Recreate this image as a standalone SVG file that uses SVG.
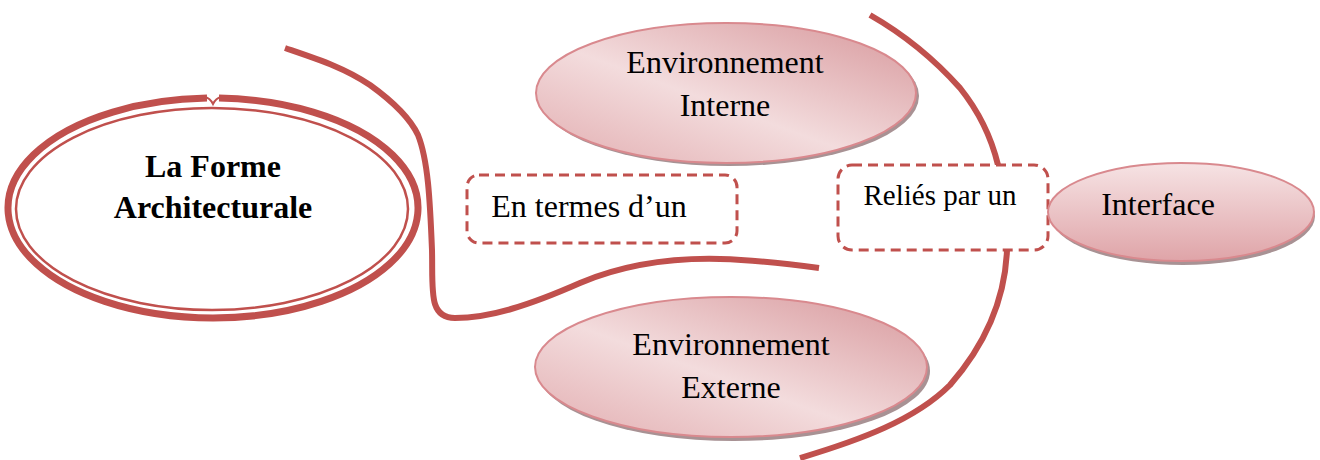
<svg xmlns="http://www.w3.org/2000/svg" width="1320" height="460" viewBox="0 0 1320 460">
<style>
  .line{fill:none;stroke:#c0504d;stroke-width:6;stroke-linecap:butt}
  .t{font-family:"Liberation Serif","Times New Roman",serif;font-size:32px;fill:#000;text-anchor:middle}
  .b{font-weight:bold}
  .dash{fill:#fff;stroke:#c0504d;stroke-width:3;stroke-dasharray:10 6}
  .env{fill:url(#gEnv);stroke:#d9898e;stroke-width:2}
  .shadow{fill:#a89294}
</style>
<defs>
  <linearGradient id="gEnv" x1="0" y1="1" x2="1" y2="0">
    <stop offset="0" stop-color="#e2adb0"/>
    <stop offset="0.45" stop-color="#f3dcdd"/>
    <stop offset="1" stop-color="#d7979b"/>
  </linearGradient>
  <linearGradient id="gInt" x1="0" y1="0" x2="0" y2="1">
    <stop offset="0" stop-color="#f6e3e4"/>
    <stop offset="1" stop-color="#dfa4a8"/>
  </linearGradient>
</defs>
<g id="connectors">
  <path class="line" d="M285,48 C320,60 345,68 370,85 C395,103 410,118 418,135 C428,160 430,200 432,250 C433,290 428,318 455,318 C490,318 530,305 580,283 C630,262 680,258 720,259 C760,260 790,264 819,268"/>
  <path class="line" d="M870,15 C905,35 935,60 960,88 C980,113 992,140 998,165 C1004,195 1008,225 1007,250 C1005,300 985,345 950,385 C915,420 860,440 800,458"/>
</g>
<g id="forme">
  <path d="M219,98.05 A205,110 0 1 1 207,98.05" fill="#fff" stroke="#c0504d" stroke-width="7"/>
  <path d="M205,97 Q210,98 213,104 Q216,98 221,97" fill="none" stroke="#c0504d" stroke-width="2"/>
  <ellipse cx="212" cy="209" rx="196" ry="101" fill="none" stroke="#c0504d" stroke-width="2.5"/>
  <text class="t b" x="213" y="177">La Forme</text>
  <text class="t b" x="213" y="218">Architecturale</text>
</g>
<g id="env-interne">
  <ellipse class="shadow" cx="729" cy="96" rx="190" ry="70"/>
  <ellipse class="env" cx="726" cy="93" rx="190" ry="70"/>
  <text class="t" x="725" y="73">Environnement</text>
  <text class="t" x="725" y="116">Interne</text>
</g>
<g id="env-externe">
  <ellipse class="shadow" cx="734" cy="371" rx="196" ry="70"/>
  <ellipse class="env" cx="731" cy="367" rx="196" ry="70"/>
  <text class="t" x="731" y="355">Environnement</text>
  <text class="t" x="731" y="398">Externe</text>
</g>
<g id="en-termes">
  <rect class="dash" x="467" y="175" width="270" height="68" rx="12"/>
  <text class="t" x="589" y="217">En termes d’un</text>
</g>
<g id="relies">
  <rect class="dash" x="838" y="165" width="210" height="85" rx="14"/>
  <text class="t" x="940" y="205" style="font-size:29px">Reliés par un</text>
</g>
<g id="interface">
  <ellipse class="shadow" cx="1183" cy="216" rx="132" ry="49"/>
  <ellipse cx="1181" cy="212" rx="133" ry="49" fill="url(#gInt)" stroke="#d9898e" stroke-width="2"/>
  <text class="t" x="1158" y="215">Interface</text>
</g>
</svg>
